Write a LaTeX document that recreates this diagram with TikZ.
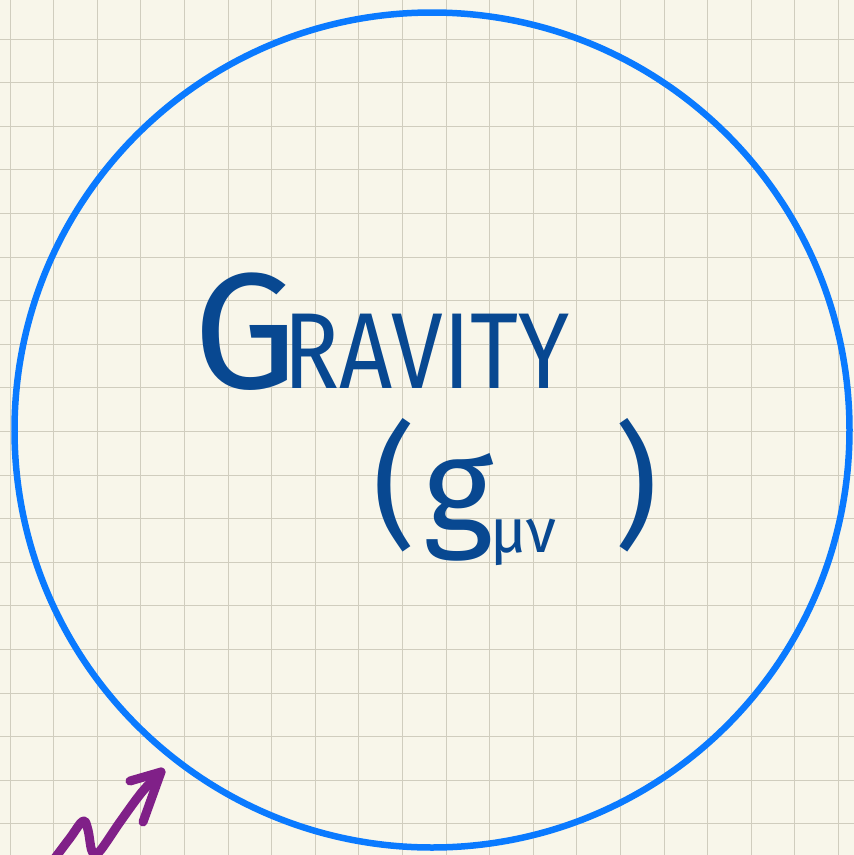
\documentclass[tikz,border=0pt]{standalone}
\usepackage{fontspec}
\setmainfont{Fira Sans}
\definecolor{paper}{RGB}{248,246,234}
\definecolor{gridc}{RGB}{208,205,190}
\definecolor{ringblue}{RGB}{10,122,255}
\definecolor{inkblue}{RGB}{8,72,145}
\definecolor{inkpurple}{RGB}{128,32,136}
\tikzset{
  gridline/.style={draw=gridc, line width=1pt},
  ring/.style={circle, draw=ringblue, line width=6.5pt, minimum size=835pt, inner sep=0pt},
  ink/.style={text=inkblue, inner sep=0pt},
  squiggle/.style={draw=inkpurple, line width=9pt, line cap=round, line join=round}
}
\begin{document}
\begin{tikzpicture}[x=1pt, y=-1pt]
\useasboundingbox (0,0) rectangle (854,855);
\fill[paper] (0,0) rectangle (854,855);
\foreach \k in {0,...,19} { \draw[gridline] (10+43.6*\k,0) -- (10+43.6*\k,855); }
\foreach \k in {0,...,18} { \draw[gridline] (0,39+43.6*\k) -- (854,39+43.6*\k); }
\node[ring] (c) at (432,430) {};
\node[ink, anchor=base west] (grav) at (193,388)
  {\fontsize{165}{165}\selectfont G\hspace{-14pt}\fontsize{108}{108}\selectfont\scalebox{0.86}[1]{RAVITY}};
\node[ink, anchor=base west] (gmn) at (372,532)
  {\fontsize{135}{135}\selectfont(\hspace{8pt}g\hspace{-4pt}\raisebox{-20pt}{\fontsize{62}{62}\selectfont μν}\hspace{58pt})};
\coordinate (s0) at (52,862);
\coordinate (tip) at (161,772);
\coordinate (b1) at (130,781);
\coordinate (b2) at (143,822);
\draw[squiggle] plot[smooth, tension=0.6] coordinates {(s0) (70,838) (83,821) (88,830) (92,851) (99,852) (120,822) (142,792) (tip)};
\draw[squiggle] (b1) -- (tip) -- (b2);
\end{tikzpicture}
\end{document}
